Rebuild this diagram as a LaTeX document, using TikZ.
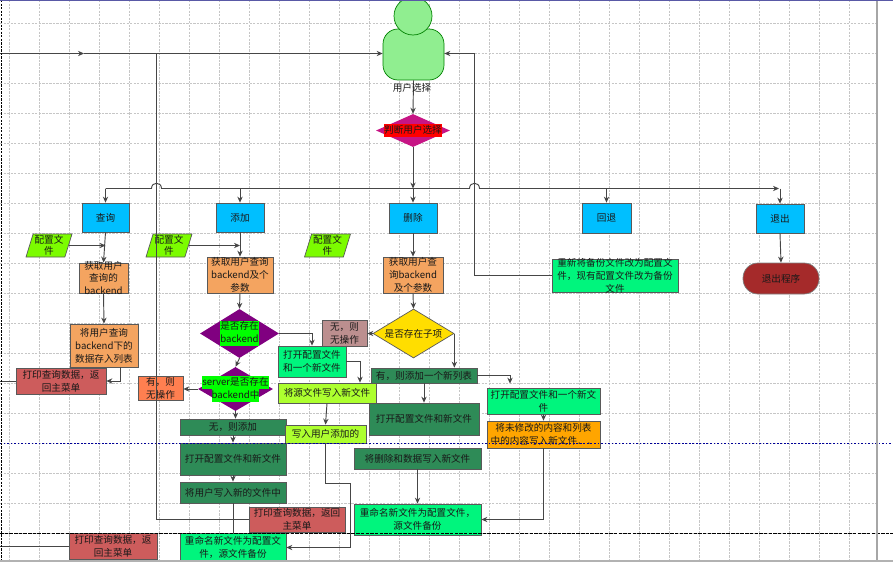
\documentclass[tikz,border=0pt]{standalone}
\usepackage{fontspec}
\setmainfont{Noto Sans CJK SC}
\usepackage{xcolor}
\usetikzlibrary{shapes.geometric, arrows.meta, calc}
\definecolor{flowblue}{RGB}{0, 191, 255}
\definecolor{floworange}{RGB}{244, 164, 96}
\definecolor{flowred}{RGB}{205, 92, 92}
\definecolor{flowdark}{RGB}{46, 139, 87}
\definecolor{flowspring}{RGB}{0, 245, 125}
\definecolor{flowlime}{RGB}{173, 255, 47}
\definecolor{flowlawn}{RGB}{124, 252, 0}
\definecolor{flowcoral}{RGB}{255, 127, 80}
\definecolor{flowrosy}{RGB}{188, 143, 143}
\definecolor{flowgold}{RGB}{255, 222, 0}
\definecolor{flowamber}{RGB}{255, 165, 0}
\definecolor{flowbrown}{RGB}{165, 42, 42}
\definecolor{flowpurple}{RGB}{128, 0, 128}
\definecolor{flowviolet}{RGB}{199, 21, 133}
\definecolor{flowuser}{RGB}{144, 238, 144}
\definecolor{flowline}{RGB}{70, 70, 70}
\setlength{\fboxsep}{0pt}
\newcommand{\hlt}[2]{\colorbox{#1}{\strut #2}}

\begin{document}
\begin{tikzpicture}[
        x=0.03cm, y=-0.03cm,
        sz/.style 2 args={minimum width=#1*0.03cm, minimum height=#2*0.03cm},
        ntext/.style={font=\fontsize{8.2}{11}\selectfont, align=center, inner sep=0pt, text=black!90},
        fbox/.style={rectangle, draw=black!65, line width=0.6pt, ntext},
        tx/.style={label={[ntext]center:#1}},
        bluebox/.style={fbox, fill=flowblue},
        orangebox/.style={fbox, fill=floworange},
        redbox/.style={fbox, fill=flowred},
        darkbox/.style={fbox, fill=flowdark},
        springbox/.style={fbox, fill=flowspring},
        limebox/.style={fbox, fill=flowlime},
        para/.style={trapezium, trapezium left angle=70, trapezium right angle=110,
                     trapezium stretches body, draw=black!65, line width=0.6pt,
                     fill=flowlawn, ntext, font=\fontsize{8.2}{9.1}\selectfont},
        dia/.style={diamond, draw=none, ntext},
        conn/.style={flowline, line width=0.8pt},
        arr/.style={conn, -{Stealth[length=1.8mm, width=1.6mm]}},
        gridl/.style={gray!45, dash pattern=on 2pt off 1pt, line width=0.5pt},
        guide/.style={line width=0.8pt}
      ]
        \useasboundingbox (0,0) rectangle (893,562);

        % Grid
        \foreach \i in {0,...,28}{
          \draw[gridl] ({9.5+\i*30},0) -- ({9.5+\i*30},560);
        }
        \foreach \i in {0,...,17}{
          \draw[gridl] (0,{23+\i*30}) -- (877,{23+\i*30});
        }

        % User
        \node[fbox, rounded corners=0.45cm, fill=flowuser, draw=black!50!green, sz={61}{51}] (usr) at (413.5,54.5) {};
        \node[circle, fill=flowuser, draw=black!50!green, line width=0.6pt, minimum size=38*0.03cm, inner sep=0pt] (head) at (413,16) {};

        % Choice
        \node[dia, fill=flowviolet, sz={74}{33}, tx={\hlt{red}{判断用户选择}}] (sel) at (413,130.5) {};

        % Menu
        \node[bluebox, sz={47}{29}] (qry) at (105.5,217.5) {查询};
        \node[bluebox, sz={48}{29}] (addb) at (240,217.5) {添加};
        \node[bluebox, sz={48}{30}] (delb) at (413,218) {删除};
        \node[bluebox, sz={49}{30}] (backb) at (606.5,218) {回退};
        \node[bluebox, sz={48}{29}] (quit) at (780,218.5) {退出};

        % Config files
        \node[para, sz={46}{23}] (cfg1) at (49,245.5) {配置文\\件};
        \node[para, sz={46}{23}] (cfg2) at (169,245.5) {配置文\\件};
        \node[para, sz={46}{23}] (cfg3) at (327.5,245.5) {配置文\\件};

        % Query
        \node[orangebox, sz={49}{30}, tx={获取用户\\查询的\\backend}] (fetchq) at (103.5,278) {};
        \node[orangebox, sz={68}{43}] (store) at (104,345.5) {将用户查询\\backend下的\\数据存入列表};
        \node[redbox, sz={90}{26}] (print1) at (61,381) {打印查询数据，返\\回主菜单};

        % Add
        \node[orangebox, sz={66}{36}] (fetcha) at (240,275) {获取用户查询\\backend及个\\参数};
        \node[dia, fill=flowpurple, sz={79}{49},
              tx={\hlt{green}{是否存在}\\\hlt{green}{backend}}] (dia1) at (239.5,333.5) {};
        \node[dia, fill=flowpurple, sz={75}{44},
              tx={\hlt{green}{server是否存在}\\\hlt{green}{backend中}}] (dia2) at (235.5,389) {};
        \node[fbox, fill=flowcoral, sz={45}{24}] (hasn) at (160.5,388) {有，则\\无操作};
        \node[darkbox, sz={106}{16}] (nadd) at (233,427) {无，则添加};
        \node[darkbox, sz={106}{32}] (opna) at (233,459) {打开配置文件和新文件};
        \node[darkbox, sz={106}{21}] (wra) at (233,492.5) {将用户写入新的文件中};
        \node[redbox, sz={96}{25}] (print2) at (297,519.5) {打印查询数据，返回\\主菜单};
        \node[redbox, sz={88}{26}] (print3) at (113,546) {打印查询数据，返\\回主菜单};
        \node[springbox, sz={106}{29}] (ren1) at (233,547.5) {重命名新文件为配置文\\件，源文件备份};
        \node[springbox, sz={68}{31}] (opnf) at (312,361.5) {打开配置文件\\和一个新文件};
        \node[limebox, sz={98}{20}] (srcw) at (327,393) {将源文件写入新文件};
        \node[limebox, sz={81}{18}] (wruser) at (325.5,434) {写入用户添加的};

        % Delete
        \node[orangebox, sz={60}{36}] (fetchd) at (413,275) {获取用户查\\询backend\\及个参数};
        \node[dia, fill=flowgold, draw=black!65, line width=0.6pt, sz={81}{49}, tx={是否存在子项}] (ydia) at (413.5,333.5) {};
        \node[fbox, fill=flowrosy, sz={45}{26}] (nop) at (344.5,333) {无，则\\无操作};
        \node[darkbox, sz={106}{15}] (yes) at (424,375.5) {有，则添加一个新列表};
        \node[darkbox, sz={110}{32}] (opnd) at (424,419) {打开配置文件和新文件};
        \node[darkbox, sz={127}{21}] (wdel) at (417.5,458.5) {将删除和数据写入新文件};
        \node[springbox, sz={127}{31}] (ren2) at (417.5,519.5) {重命名新文件为配置文件，\\源文件备份};
        \node[springbox, sz={113}{26}] (ropen) at (543.5,401) {打开配置文件和一个新文\\件};
        \node[fbox, fill=flowamber, sz={113}{27}] (unmod) at (543.5,434.5) {将未修改的内容和列表\\中的内容写入新文件．．};

        % Back and quit
        \node[springbox, sz={126}{33}, tx={重新将备份文件改为配置文\\件，现有配置文件改为备份\\文件}] (rec) at (615,275.5) {};
        \node[fbox, rounded corners=0.45cm, fill=flowbrown, draw=gray, sz={76}{31}] (prog) at (781,278.5) {退出程序};

        % Connectors
        \coordinate (wirel) at (0,53.5);
        \coordinate (wirem) at (84,53.5);
        \coordinate (wirej) at (156.5,53.5);
        \coordinate (wirer) at (474.5,53.5);
        \coordinate (busl) at (105.5,188.5);
        \coordinate (jmpa) at (151.5,188.5);
        \coordinate (jmpb) at (161.5,188.5);
        \coordinate (jmpc) at (469.5,188.5);
        \coordinate (jmpd) at (479.5,188.5);
        \coordinate (busr) at (779,188.5);
        \coordinate (bend) at (350.5,483.5);
        \coordinate (lft1) at (0,381);
        \coordinate (lft3) at (0,546);

        \draw[arr] (wirel) -- (wirem);
        \draw[arr] (wirem) -- (wirem -| usr.west);
        \draw[conn] (print2.west) -| (wirej);
        \draw[arr] (rec.west) -| (wirer) -- (wirer -| usr.east);
        \draw[arr] (usr.south) -- (sel.north);
        \draw[arr] (busl) -- (jmpa) .. controls +(0,-7) and +(0,-7) .. (jmpb)
          -- (jmpc) .. controls +(0,-7) and +(0,-7) .. (jmpd) -- (busr);
        \draw[arr] (sel.south) -- (sel.south |- busl);
        \draw[arr] (sel.south |- busl) -- (delb.north);
        \foreach \b in {qry,addb,backb,quit}{
          \draw[arr] (\b.north |- busl) -- (\b.north);
        }
        \draw[arr] (quit.south) -- (prog.north);

        \draw[arr] (qry.south) -- (fetchq.north);
        \draw[arr] (cfg1.east) -- (cfg1.east -| qry.south);
        \draw[arr] (fetchq.south) -- (store.north);
        \draw[arr] ($(store.south)+(16,0)$) |- (print1.east);
        \draw[conn] (print1.west) -- (lft1);

        \draw[arr] (addb.south) -- (fetcha.north);
        \draw[arr] (cfg2.east) -- (cfg2.east -| addb.south);
        \draw[arr] (fetcha.south) -- (dia1.north);
        \draw[arr] (dia1.south) -- (dia2.north);
        \draw[arr] (dia2.west) -- (dia2.west -| hasn.east);
        \draw[arr] (dia2.south) -- (dia2.south |- nadd.north);
        \draw[arr] (nadd.south) -- (opna.north);
        \draw[arr] (opna.south) -- (wra.north);
        \draw[conn] (wra.south) -- (ren1.north);
        \draw[arr] (dia1.east) -| (opnf.north);
        \draw[arr] (opnf.east) -| ($(srcw.north)+(33,0)$);
        \draw[arr] (srcw.south) -- (wruser.north);
        \draw[arr] (wruser.south) |- (bend) |- (ren1.east);
        \draw[conn] (print3.west) -- (lft3);

        \draw[arr] (delb.south) -- (fetchd.north);
        \draw[arr] (fetchd.south) -- (ydia.north);
        \draw[arr] (ydia.west) -- (ydia.west -| nop.east);
        \draw[arr] (ydia.east) -- (ydia.east |- yes.north);
        \draw[arr] (yes.south) -- (opnd.north);
        \draw[arr, shorten >=0.12cm] (yes.east) -| ($(ropen.north)+(-33.5,0)$);
        \draw[arr] (ropen.south) -- (unmod.north);
        \draw[arr] (unmod.south) |- (ren2.east);
        \draw[arr] (wdel.south) -- (ren2.north);

        % Labels and page edges
        \node[ntext] (usrlbl) at (412,88) {用户选择};
        \draw[guide, blue!60!black, dash pattern=on 1.5pt off 1.5pt] (0,443) -- (893,443);
        \draw[guide, black, dash pattern=on 3pt off 1pt] (0,533) -- (893,533);
        \draw[guide, black, dash pattern=on 2pt off 1pt] (1,0) -- (1,560);
        \draw[gray!70, line width=1pt] (877,0) -- (877,560);
        \draw[gray!60, line width=2pt] (0,561) -- (893,561);
        \draw[blue!30!gray, line width=1pt] (0,0.5) -- (893,0.5);
      \end{tikzpicture}
\end{document}
